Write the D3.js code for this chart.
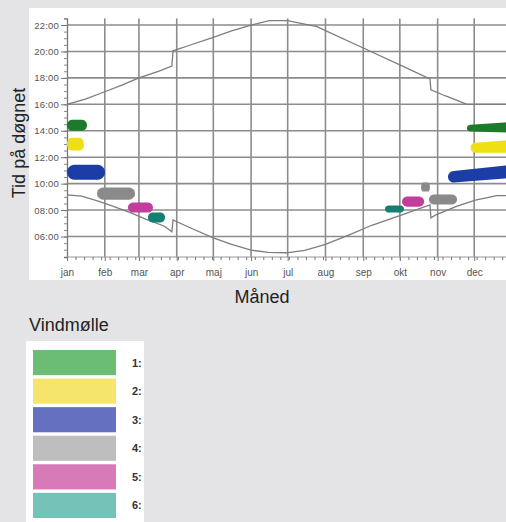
<!DOCTYPE html>
<html>
<head>
<meta charset="utf-8">
<script src="https://cdn.jsdelivr.net/npm/d3@7"></script>
<style>
  html, body { margin: 0; padding: 0; background: #e4e4e6; }
  svg { display: block; }
  text { font-family: "Liberation Sans", Arial, sans-serif; }
</style>
</head>
<body>
<svg id="chart" width="506" height="522"></svg>
<script>
// ---- data ----
const months = ["jan","feb","mar","apr","maj","jun","jul","aug","sep","okt","nov","dec"];
const monthStartDays = [0,31,59,90,120,151,181,212,243,273,304,334];
const hourTicks = [6,8,10,12,14,16,18,20,22];
const turbines = ["1:","2:","3:","4:","5:","6:"];
const turbineColors = ["#1c7a2c","#efe012","#1d3ea6","#8a8a8a","#c23c9e","#178070"];
const legendColors = ["#6cbd74","#f6e56c","#6670c0","#bebebe","#d87ab8","#74c2b8"];

// sunset (day of year, hour)
const sunset = [[0,16.0],[15,16.4],[31,16.95],[45,17.45],[59,18.0],[75,18.5],[86,18.9],[87,20.05],
  [100,20.45],[120,21.06],[135,21.55],[151,22.0],[166,22.33],[181,22.33],[205,21.88],[212,21.58],
  [243,20.26],[273,18.98],[297.7,17.93],[298.5,17.1],[310,16.65],[320,16.3],[328,16.0],[365,16.0]];

// sunrise (day of year, hour)
const sunrise = [[0,9.15],[12,9.05],[25,8.7],[38,8.28],[52,7.8],[65,7.3],[80,6.78],[86,6.35],[87,7.25],
  [100,6.7],[120,5.9],[135,5.4],[151,4.97],[165,4.8],[180,4.77],[195,4.95],[212,5.4],[232,6.15],
  [250,6.85],[273,7.58],[297.7,8.4],[298.5,7.41],[303,7.66],[320,8.3],[335,8.75],[352.5,9.1],[365,9.1]];

// shadow periods: [turbine index, startDay, endDay, lowStart, highStart, lowEnd, highEnd]
const shadowPeriods = [
  [0, 0, 16.4, 14.0, 14.83, 14.0, 14.83],
  [1, 0, 13.9, 12.5, 13.47, 12.5, 13.47],
  [2, 0, 31.2, 10.3, 11.43, 10.3, 11.43],
  [3, 24.6, 55.8, 8.79, 9.7, 8.79, 9.7],
  [4, 50, 70.5, 7.81, 8.57, 7.81, 8.57],
  [5, 66.4, 80.4, 7.06, 7.81, 7.06, 7.81],
  [5, 260.8, 276.4, 7.81, 8.34, 7.81, 8.34],
  [4, 274.8, 292.9, 8.26, 9.02, 8.26, 9.02],
  [3, 290.4, 297.7, 9.4, 10.08, 9.4, 10.08],
  [3, 296.9, 319.9, 8.42, 9.17, 8.42, 9.17],
  [2, 312.5, 372, 10.08, 10.95, 10.45, 11.43],
  [0, 328, 372, 13.95, 14.45, 13.85, 14.68],
  [1, 331, 372, 12.34, 13.1, 12.34, 13.32]
];

// ---- layout ----
const svg = d3.select("#chart");
const x = d3.scaleLinear().domain([0, 365]).range([67, 512]);
const y = d3.scaleLinear().domain([4.45, 22.5]).range([257, 18.4]);
const plotTop = 18.4, plotBottom = 257, plotLeft = 67, plotRight = 506;

// white panel
svg.append("rect").attr("x", 29).attr("y", 8).attr("width", 477).attr("height", 272).attr("fill", "#fff");

// gridlines
const gridColor = "#8c8c8c";
svg.append("g").selectAll("line").data(monthStartDays.slice(1).concat([365]))
  .join("line")
  .attr("x1", d => x(d)).attr("x2", d => x(d))
  .attr("y1", plotTop).attr("y2", plotBottom)
  .attr("stroke", gridColor).attr("stroke-width", 1.6);
svg.append("g").selectAll("line").data(hourTicks)
  .join("line")
  .attr("x1", plotLeft).attr("x2", plotRight)
  .attr("y1", d => y(d)).attr("y2", d => y(d))
  .attr("stroke", gridColor).attr("stroke-width", 1.6);

// y axis
const yAxis = svg.append("g").attr("transform", `translate(${plotLeft},0)`);
yAxis.call(d3.axisLeft(y).tickValues(d3.range(5, 22.51, 0.5)).tickSize(3).tickFormat(""));
yAxis.call(g => g.select(".domain").attr("stroke", "#777").attr("stroke-width", 1.3));
yAxis.selectAll(".tick line").attr("stroke", "#888");
const yMajor = svg.append("g").attr("transform", `translate(${plotLeft},0)`)
  .call(d3.axisLeft(y).tickValues(hourTicks).tickSize(6).tickPadding(2)
    .tickFormat(d => String(d).padStart(2, "0") + ":00"));
yMajor.select(".domain").remove();
yMajor.selectAll(".tick line").attr("stroke", "#777");
yMajor.selectAll(".tick text").attr("fill", "#555").attr("font-size", 9.5)
  .attr("font-family", "Liberation Sans, Arial, sans-serif").attr("letter-spacing", 0.2);

// x axis
const weekDays = d3.range(0, 366, 7);
const xAxis = svg.append("g").attr("transform", `translate(0,${plotBottom})`)
  .call(d3.axisBottom(x).tickValues(weekDays).tickSize(3).tickFormat(""));
xAxis.select(".domain").attr("stroke", "#999").attr("stroke-width", 1).attr("d", `M${plotLeft},0H${plotRight}`);
xAxis.selectAll(".tick line").attr("stroke", "#777");
const xLab = svg.append("g").attr("transform", `translate(0,${plotBottom})`)
  .call(d3.axisBottom(x).tickValues(monthStartDays).tickSize(4).tickPadding(8)
    .tickFormat((d, i) => months[i]));
xLab.select(".domain").remove();
xLab.selectAll(".tick line").attr("stroke", "#777");
xLab.selectAll(".tick text").attr("fill", "#555").attr("font-size", 10)
  .attr("font-family", "Liberation Sans, Arial, sans-serif");

// sun curves
const line = d3.line().x(d => x(d[0])).y(d => y(d[1]));
[sunset, sunrise].forEach(c => {
  svg.append("path").attr("d", line(c)).attr("fill", "none")
    .attr("stroke", "#7d7d80").attr("stroke-width", 1.3);
});

// blur filter for scanned look
const defs = svg.append("defs");
defs.append("filter").attr("id", "soft").append("feGaussianBlur").attr("stdDeviation", 0.6);

// shadow blobs: rounded capsules (possibly slanted)
function capsule(p) {
  const [t, d0, d1, lo0, hi0, lo1, hi1] = p;
  const xa = x(d0), xb = x(d1);
  const ta = y(hi0), ba = y(lo0), tb = y(hi1), bb = y(lo1);
  const ra = (ba - ta) / 2, rb = (bb - tb) / 2;
  const ca = (ba + ta) / 2, cb = (bb + tb) / 2;
  const capA = Math.min(ra, (xb - xa) / 4), capB = Math.min(rb, (xb - xa) / 4);
  const pts = [];
  const N = 12;
  pts.push([xa + capA, ta], [xb - capB, tb]);
  for (let i = 1; i < N; i++) {
    const a = -Math.PI / 2 + Math.PI * i / N;
    pts.push([xb - capB + capB * Math.cos(a), cb + rb * Math.sin(a)]);
  }
  pts.push([xb - capB, bb], [xa + capA, ba]);
  for (let i = 1; i < N; i++) {
    const a = Math.PI / 2 + Math.PI * i / N;
    pts.push([xa + capA + capA * Math.cos(a), ca + ra * Math.sin(a)]);
  }
  return "M" + pts.map(q => q[0].toFixed(2) + "," + q[1].toFixed(2)).join("L") + "Z";
}
svg.append("g").attr("filter", "url(#soft)").selectAll("path").data(shadowPeriods)
  .join("path")
  .attr("d", capsule)
  .attr("fill", p => turbineColors[p[0]]);

// axis titles
svg.append("text").attr("x", 262).attr("y", 303).attr("text-anchor", "middle")
  .attr("font-size", 18).attr("fill", "#222").text("Måned");
svg.append("text").attr("transform", "translate(25,143) rotate(-90)").attr("text-anchor", "middle")
  .attr("font-size", 18).attr("fill", "#222").text("Tid på døgnet");

// legend
svg.append("text").attr("x", 29).attr("y", 331).attr("font-size", 18).attr("fill", "#222").text("Vindmølle");
svg.append("rect").attr("x", 26).attr("y", 341).attr("width", 118).attr("height", 181).attr("fill", "#fff");
defs.append("clipPath").attr("id", "legclip").append("rect")
  .attr("x", 26).attr("y", 341).attr("width", 118).attr("height", 181);
const leg = svg.append("g").attr("clip-path", "url(#legclip)");
const rowY = d3.scaleBand().domain(d3.range(turbines.length)).range([350, 518]).paddingInner(0.12);
leg.selectAll("rect.sw").data(turbines).join("rect").attr("class", "sw")
  .attr("x", 33).attr("width", 83)
  .attr("y", (d, i) => rowY(i)).attr("height", rowY.bandwidth())
  .attr("fill", (d, i) => legendColors[i]);
leg.selectAll("text").data(turbines).join("text")
  .attr("x", 132).attr("y", (d, i) => rowY(i) + rowY.bandwidth() / 2 + 4)
  .attr("font-size", 11).attr("font-weight", "bold").attr("fill", "#333")
  .text(d => d);
</script>
</body>
</html>
